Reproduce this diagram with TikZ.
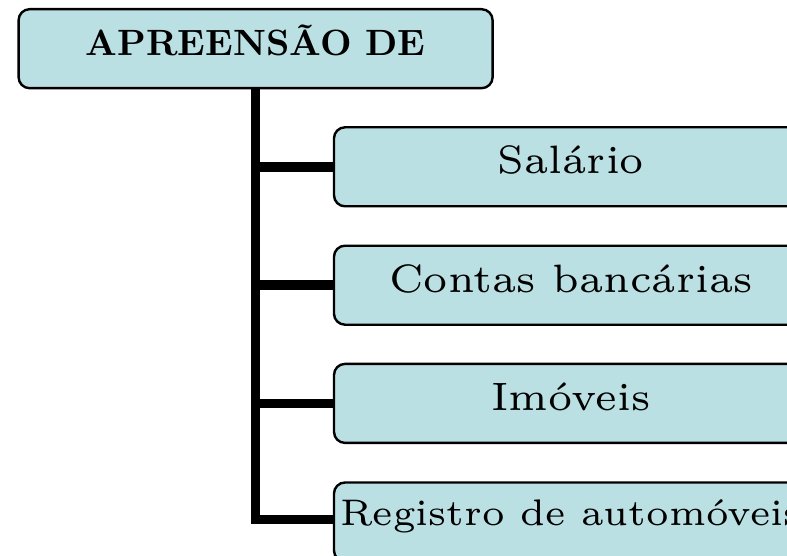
\documentclass[tikz,border=0pt]{standalone}
\usepackage{graphicx}
\definecolor{boxfill}{RGB}{187,224,227}
\tikzset{
  box/.style={draw=black, line width=2.4pt, fill=boxfill, rounded corners=11pt,
    minimum width=474pt, minimum height=79pt, inner sep=1pt,
    text height=30pt, text depth=16pt},
  conn/.style={draw=black, line width=9.6pt},
}
\newcommand{\txt}[2][6.6]{\makebox[0pt][c]{\scalebox{#1}{\fontsize{6}{7}\selectfont #2}}}
\newcommand{\ttl}[1]{\makebox[0pt][c]{\scalebox{3.66}{\fontsize{10}{12}\selectfont\bfseries #1}}}
\begin{document}
\begin{tikzpicture}[x=1pt,y=-1pt]
\useasboundingbox (0,0) rectangle (787,556);
\node[box] (title) at (255.6,48.7) {\ttl{APREENSÃO DE}};
\node[box] (b1) at (571,166.8) {\txt{Salário}};
\node[box] (b2) at (571,285.2) {\txt{Contas bancárias}};
\node[box] (b3) at (571,403.4) {\txt{Imóveis}};
\node[box, text depth=24pt] (b4) at (571,522) {\txt[6.17]{Registro de automóveis}};
\draw[conn] (title.south) |- ([yshift=2.5pt]b4.west);
\draw[conn] (b1.west -| title.south) -- (b1.west);
\draw[conn] (b2.west -| title.south) -- (b2.west);
\draw[conn] (b3.west -| title.south) -- (b3.west);
\end{tikzpicture}
\end{document}
